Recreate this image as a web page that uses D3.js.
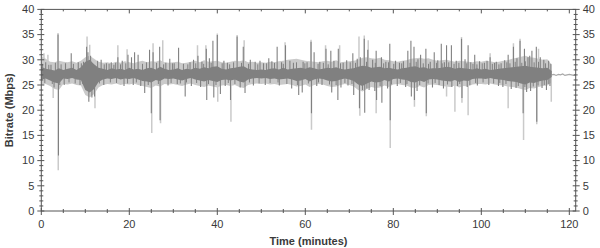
<!DOCTYPE html>
<html><head><meta charset="utf-8">
<script src="https://cdn.jsdelivr.net/npm/d3@7"></script>
<style>
body{margin:0;background:#fff}
svg{display:block}
text{font-family:"Liberation Sans",Arial,sans-serif}
</style>
</head><body>
<svg id="chart" width="600" height="248"></svg>
<script>
// per-minute envelope of the dense trace, t = 0 .. 116 min (Mbps)
const avgHigh = [
28.6,28.2,28.1,27.9,28.3,28.0,28.2,28.4,28.0,28.5,
29.6,30.0,29.1,28.4,28.2,28.0,28.3,28.1,28.2,28.0,
28.4,28.1,28.2,28.0,28.3,28.4,28.1,28.6,28.2,28.0,
28.1,28.3,28.0,28.2,28.1,28.4,28.2,28.5,28.3,28.6,
28.7,28.2,28.1,28.3,28.4,28.6,28.7,28.2,28.1,28.0,
28.1,28.0,28.2,28.3,28.1,28.4,28.1,28.2,28.3,28.4,
28.2,28.5,28.3,28.1,28.2,28.4,28.3,28.5,28.2,28.1,
28.2,28.3,28.6,28.8,28.7,28.4,28.5,28.6,28.3,28.4,
28.2,28.1,28.3,28.4,28.6,28.7,28.4,28.5,28.2,28.3,
28.3,28.4,28.6,28.5,28.2,28.4,28.3,28.2,28.1,28.3,
28.1,28.2,28.0,28.1,28.2,28.3,28.4,28.5,28.6,28.7,
28.8,28.6,28.5,28.4,28.3,28.4,27.8
];
const avgLow = [
26.1,26.3,25.9,25.5,25.3,26.3,26.2,26.4,26.1,26.0,
24.0,23.5,24.2,25.6,26.1,26.3,26.2,26.4,26.1,26.3,
26.2,26.4,26.1,25.8,25.7,25.5,26.0,25.8,26.3,26.2,
26.3,26.1,25.9,26.2,26.4,26.1,25.9,25.7,26.0,25.8,
25.6,26.0,26.1,25.9,26.1,25.7,25.5,26.1,26.3,26.4,
26.3,26.4,26.2,26.3,26.1,26.2,26.3,26.1,25.8,25.9,
26.2,25.7,26.1,26.3,26.2,25.9,25.7,25.8,26.1,26.3,
26.1,25.8,25.1,24.8,25.3,25.7,25.5,25.6,26.0,25.7,
26.2,26.3,26.1,26.0,25.6,25.5,25.9,25.6,26.1,26.2,
26.1,25.9,25.8,25.7,26.0,25.6,25.9,25.8,26.2,26.3,
26.3,26.2,26.4,26.2,26.1,26.0,25.8,25.7,25.6,25.3,
25.1,25.5,25.4,25.7,25.9,26.0,26.6
];
const peakHigh = [
30.8,30.2,29.6,29.5,29.8,29.6,29.5,29.7,29.4,29.8,
30.5,30.8,30.2,29.6,29.4,29.5,29.3,29.6,29.4,29.7,
29.5,29.3,29.6,29.8,29.5,29.7,29.6,29.9,29.5,29.4,
29.5,29.6,29.3,29.4,29.6,29.8,29.5,29.9,29.6,29.7,
29.8,29.5,29.4,29.6,29.8,29.7,29.9,29.5,29.6,29.4,
29.5,29.4,29.6,29.5,29.7,29.8,30.0,30.1,30.2,30.0,
29.8,29.7,29.6,29.5,29.7,29.8,29.6,29.9,29.5,29.6,
29.7,29.8,30.0,30.4,30.5,30.3,30.2,30.4,30.0,29.9,
29.7,29.6,29.8,29.9,30.2,30.3,30.4,30.2,30.3,30.0,
29.8,29.9,30.0,29.8,29.6,29.8,29.7,29.6,29.5,29.7,
29.6,29.8,29.7,29.5,29.6,29.8,29.9,30.2,30.4,30.6,
30.8,30.5,30.4,30.2,30.0,30.1,29.0
];
const peakLow = [
25.0,25.2,24.8,24.2,24.0,25.2,25.1,25.3,25.0,24.9,
23.0,22.5,23.2,24.5,25.0,25.2,25.1,25.3,25.0,25.2,
25.1,25.3,25.0,24.8,24.6,24.4,24.9,24.7,25.2,25.1,
25.2,25.0,24.8,25.1,25.3,25.0,24.8,24.6,24.9,24.7,
24.5,24.9,25.0,24.8,25.0,24.6,24.4,25.0,25.2,25.3,
25.2,25.3,25.1,25.2,25.0,25.1,25.2,25.0,24.7,24.8,
25.1,24.6,25.0,25.2,25.1,24.8,24.6,24.7,25.0,25.2,
25.0,24.7,24.0,23.7,24.2,24.6,24.4,24.5,24.9,24.6,
25.1,25.2,25.0,24.9,24.5,24.4,24.8,24.5,25.0,25.1,
25.0,24.8,24.7,24.6,24.9,24.5,24.8,24.7,25.1,25.2,
25.2,25.1,25.3,25.1,25.0,24.9,24.7,24.6,24.5,24.2,
24.0,24.4,24.3,24.6,24.8,24.9,25.5
];

// isolated excursions of the average trace [minute, Mbps]
const avgSpikes = [
[3.8,35.0],[3.9,11.0],[6.8,31.3],[10.3,32.6],[10.6,31.5],[11.2,30.8],[10.8,21.7],[11.5,22.5],[12.1,22.7],
[13.6,30.0],[17.4,30.5],[19.7,31.0],[20.5,30.5],[21.2,31.5],[22.0,31.0],[23.5,23.4],[24.6,32.0],[25.0,19.4],
[25.4,31.5],[26.9,32.6],[27.0,18.0],[29.2,30.2],[31.2,32.4],[32.7,22.7],[35.6,30.8],[37.5,32.2],[37.6,22.0],
[39.0,33.8],[39.2,22.5],[40.0,34.9],[40.7,23.2],[43.0,22.0],[44.5,34.6],[45.9,32.6],[46.3,23.4],[47.5,30.0],
[49.7,29.8],[51.7,30.3],[53.6,32.6],[55.5,32.9],[58.5,23.0],[61.3,33.6],[61.4,19.4],[62.0,31.5],[64.7,32.2],
[65.8,31.8],[66.0,23.5],[67.4,22.0],[67.5,32.2],[70.8,31.3],[71.0,23.0],[72.3,20.4],[72.5,30.5],[73.4,34.2],
[73.5,19.5],[74.2,32.0],[74.5,24.0],[76.1,31.8],[76.2,22.0],[77.3,30.5],[77.4,21.5],[79.2,33.2],[79.3,18.0],
[83.3,31.8],[84.0,33.8],[84.1,22.7],[84.7,32.6],[84.8,22.0],[86.2,31.0],[87.4,32.2],[87.5,19.4],[89.3,31.5],
[90.9,33.2],[92.1,32.9],[93.2,32.9],[93.3,24.6],[95.5,34.2],[95.6,22.4],[97.0,32.9],[98.5,31.0],[102.0,30.5],
[106.1,31.0],[107.3,32.6],[108.8,33.8],[109.5,19.4],[109.8,32.2],[111.5,31.8],[112.5,32.6],[112.6,17.7],
[1.0,29.5],[2.2,29.0],[5.5,29.3],[8.4,29.5],[9.6,29.6],[14.8,29.3],[15.9,29.5],[16.5,29.0],[18.4,29.8],
[28.3,29.4],[30.2,29.3],[33.8,29.5],[34.6,30.0],[36.5,29.6],[38.2,30.3],[41.5,29.8],[42.3,29.4],[48.6,29.6],
[50.5,29.3],[52.4,29.7],[54.6,29.5],[56.5,29.8],[57.3,29.4],[59.5,29.6],[60.4,29.5],[63.3,29.6],[66.5,29.8],
[68.6,29.4],[69.4,29.9],[71.8,30.2],[75.3,30.0],[78.3,29.6],[80.5,29.8],[81.4,29.4],[82.3,29.7],[85.6,30.1],
[88.4,29.6],[90.1,29.9],[91.6,29.5],[94.3,29.8],[96.3,30.1],[99.6,29.7],[100.7,29.4],[101.3,29.8],[103.4,29.6],
[104.5,29.3],[105.3,29.9],[108.1,30.3],[110.6,30.5],[111.0,30.8],[113.4,30.5],[114.2,30.0],[115.3,29.8],
[2.9,24.5],[5.2,25.0],[8.8,25.0],[14.2,25.0],[18.8,24.8],[20.9,25.0],[22.6,24.8],[28.8,24.9],[30.9,25.2],
[34.1,24.8],[36.2,24.6],[41.8,24.8],[45.2,24.5],[48.2,24.9],[50.9,25.0],[54.1,24.9],[56.9,24.3],[59.3,23.5],
[62.6,24.8],[63.8,25.0],[68.1,24.5],[69.7,24.9],[75.8,23.8],[78.7,24.3],[80.9,24.8],[82.8,24.6],[85.4,23.8],
[88.9,24.5],[90.4,25.0],[91.4,24.3],[94.6,24.8],[96.8,24.6],[99.1,24.9],[101.7,25.0],[103.9,24.8],[104.9,24.6],
[106.8,24.2],[107.9,24.4],[110.3,23.6],[111.2,23.8],[113.8,24.4],[114.8,24.0],[115.6,24.8]
];
// fine hairs on the edges of the average trace [minute, Mbps]
const avgHairs = [
[0.3,29.2],[1.7,29.0],[3.2,29.4],[4.5,29.1],[7.3,29.2],[9.1,29.3],[12.8,29.8],[14.3,29.1],[15.4,29.2],
[16.9,29.4],[18.0,29.1],[19.2,29.3],[23.0,29.2],[23.9,29.5],[26.2,29.4],[27.8,29.1],[29.8,29.3],[32.3,29.2],
[33.3,29.1],[35.1,29.3],[36.9,29.2],[38.6,29.4],[41.1,29.3],[42.8,29.1],[43.7,29.5],[45.5,29.4],[47.1,29.2],
[49.2,29.1],[51.2,29.3],[53.0,29.4],[55.0,29.2],[58.0,29.5],[59.9,29.3],[62.9,29.2],[64.1,29.4],[65.2,29.1],
[68.0,29.3],[70.2,29.5],[71.4,29.4],[73.9,29.6],[75.9,29.4],[77.8,29.3],[78.9,29.5],[80.1,29.2],[81.9,29.3],
[83.8,29.4],[85.2,29.6],[86.8,29.3],[88.0,29.2],[89.8,29.4],[91.1,29.3],[92.6,29.5],[93.8,29.2],[94.9,29.4],
[96.7,29.3],[97.6,29.5],[98.1,29.2],[99.0,29.1],[100.2,29.3],[102.5,29.2],[103.0,29.4],[104.0,29.1],[105.8,29.5],
[106.5,29.3],[107.7,29.6],[109.2,29.4],[110.0,29.7],[112.0,29.5],[113.0,29.6],[114.6,29.3],[115.8,29.2],
[0.8,25.4],[2.5,25.2],[4.2,25.0],[6.3,25.5],[7.7,25.3],[9.4,25.2],[13.2,25.3],[15.7,25.5],[17.1,25.4],
[19.6,25.3],[21.6,25.5],[24.3,25.0],[26.6,25.2],[29.5,25.4],[31.6,25.3],[33.0,25.5],[35.3,25.4],[38.0,25.2],
[39.7,25.0],[42.5,25.4],[44.0,25.2],[47.3,25.5],[49.5,25.3],[52.0,25.4],[53.8,25.5],[55.8,25.2],[58.2,25.0],
[60.7,25.3],[63.0,25.5],[65.5,25.1],[67.0,25.0],[69.0,25.4],[70.6,25.2],[73.0,24.0],[74.0,24.3],[77.0,24.8],
[79.6,25.1],[81.6,25.4],[83.1,25.2],[86.0,25.0],[87.9,25.3],[89.5,25.4],[92.3,25.1],[95.1,25.2],[97.4,25.0],
[98.7,25.4],[100.4,25.5],[102.8,25.3],[104.2,25.4],[105.6,25.2],[108.4,24.8],[109.9,24.6],[111.8,24.7],
[112.9,24.9],[114.3,25.0],[115.2,25.2]
];
// isolated excursions of the peak trace [minute, Mbps]
const peakSpikes = [
[0.6,31.3],[1.5,31.0],[10.4,34.6],[11.0,33.0],[17.4,32.9],[19.5,32.1],[25.4,33.3],[27.6,33.9],[35.5,32.9],
[37.4,32.9],[46.1,33.9],[55.4,33.5],[64.6,32.9],[67.8,32.9],[72.2,34.6],[74.3,33.9],[102.0,31.3],[107.3,33.3],
[113.0,32.2],[3.8,35.3],[40.0,35.2],[44.5,34.9],[73.4,34.8],[95.5,34.5],[108.8,34.2],[61.3,34.0],
[2.7,22.4],[3.85,8.1],[12.2,20.4],[25.1,15.5],[27.1,17.4],[40.1,21.7],[43.1,17.7],[61.4,16.1],[72.4,18.9],
[76.1,19.4],[79.3,12.5],[84.8,20.7],[87.5,18.8],[92.1,22.7],[94.0,19.7],[95.6,21.5],[97.0,19.0],[106.1,20.4],
[109.6,14.1],[112.6,17.2],[115.9,21.7]
];

// flat trailing segment after the programme ends (t = 116 .. 121.5)
const tailStart = 116, tailStep = 0.5;
const tailBitrate = [27.0,27.1,26.9,27.1,27.0,27.2,26.9,27.0,27.1,27.0,26.9,27.0];

const xTickValues = [0, 20, 40, 60, 80, 100, 120];
const xMinorValues = [5,10,15,25,30,35,45,50,55,65,70,75,85,90,95,105,110,115];
const yTickValues = [0, 5, 10, 15, 20, 25, 30, 35, 40];
const yMinorValues = [1,2,3,4,6,7,8,9,11,12,13,14,16,17,18,19,21,22,23,24,26,27,28,29,31,32,33,34,36,37,38,39];
const xTitle = "Time (minutes)";
const yTitle = "Bitrate (Mbps)";

(function draw() {
  const pL = 41.3, pR = 575.7, pT = 9.4, pB = 211;
  const x = d3.scaleLinear().domain([0, 121.45]).range([pL, pR]);
  const y = d3.scaleLinear().domain([0, 40]).range([pB, pT]);
  const lightC = "#cacaca", darkC = "#808080";

  const svg = d3.select("#chart");
  svg.append("defs").append("clipPath").attr("id","plot")
    .append("rect").attr("x", pL).attr("y", pT).attr("width", pR-pL).attr("height", pB-pT);
  const g = svg.append("g").attr("clip-path","url(#plot)");

  const band = (hi, lo) => d3.area().x((d,i) => x(i)).y0((d,i) => y(lo[i])).y1(d => y(d))(hi);
  const spikes = (data, color, w) => g.append("g").selectAll("line").data(data).join("line")
    .attr("x1", d => x(d[0])).attr("x2", d => x(d[0]))
    .attr("y1", y(27)).attr("y2", d => y(d[1]))
    .attr("stroke", color).attr("stroke-width", w);

  // light (peak)
  g.append("path").attr("d", band(peakHigh, peakLow)).attr("fill", lightC);
  spikes(peakSpikes, lightC, 1.5);
  g.append("path").datum(tailBitrate)
    .attr("d", d3.line().x((d,i) => x(tailStart + i*tailStep)).y(d => y(d)))
    .attr("fill","none").attr("stroke","#a8a8a8").attr("stroke-width",1.2);

  // dark (average)
  g.append("path").attr("d", band(avgHigh, avgLow)).attr("fill", darkC);
  spikes(avgHairs, darkC, 1);
  spikes(avgSpikes, darkC, 1.1);

  const axisColor = "#555";
  svg.append("rect").attr("x", pL).attr("y", pT).attr("width", pR-pL).attr("height", pB-pT)
    .attr("fill","none").attr("stroke", axisColor).attr("stroke-width",1);

  const ticks = svg.append("g").attr("stroke", axisColor).attr("stroke-width",1);
  yTickValues.forEach(v => {
    ticks.append("line").attr("x1", pL-4).attr("x2", pL+3).attr("y1", y(v)).attr("y2", y(v));
    ticks.append("line").attr("x1", pR-3).attr("x2", pR+4).attr("y1", y(v)).attr("y2", y(v));
  });
  yMinorValues.forEach(v => {
    ticks.append("line").attr("x1", pL-2).attr("x2", pL+2).attr("y1", y(v)).attr("y2", y(v));
    ticks.append("line").attr("x1", pR-2).attr("x2", pR+2).attr("y1", y(v)).attr("y2", y(v));
  });
  xTickValues.forEach(v => {
    ticks.append("line").attr("x1", x(v)).attr("x2", x(v)).attr("y1", pB-3).attr("y2", pB+4);
    ticks.append("line").attr("x1", x(v)).attr("x2", x(v)).attr("y1", pT).attr("y2", pT+4);
  });
  xMinorValues.forEach(v => {
    ticks.append("line").attr("x1", x(v)).attr("x2", x(v)).attr("y1", pB-2).attr("y2", pB+2);
    ticks.append("line").attr("x1", x(v)).attr("x2", x(v)).attr("y1", pT).attr("y2", pT+2);
  });

  const labelColor = "#3a3a3a";
  svg.append("g").selectAll("text").data(yTickValues).join("text")
    .attr("x", pL-7).attr("y", d => y(d)).attr("dy","0.35em")
    .attr("text-anchor","end").attr("font-size",11).attr("fill",labelColor).text(d => d);
  svg.append("g").selectAll("text").data(yTickValues).join("text")
    .attr("x", pR+7).attr("y", d => y(d)).attr("dy","0.35em")
    .attr("text-anchor","start").attr("font-size",11).attr("fill",labelColor).text(d => d);
  svg.append("g").selectAll("text").data(xTickValues).join("text")
    .attr("x", d => x(d)).attr("y", 228)
    .attr("text-anchor","middle").attr("font-size",11).attr("fill",labelColor).text(d => d);

  svg.append("text").attr("transform",`translate(13,${(pT+pB)/2}) rotate(-90)`)
    .attr("text-anchor","middle").attr("font-size",11).attr("font-weight","bold").attr("fill",labelColor).text(yTitle);
  svg.append("text").attr("x",(pL+pR)/2).attr("y",245)
    .attr("text-anchor","middle").attr("font-size",11).attr("font-weight","bold").attr("fill",labelColor).text(xTitle);
})();
</script>
</body></html>
